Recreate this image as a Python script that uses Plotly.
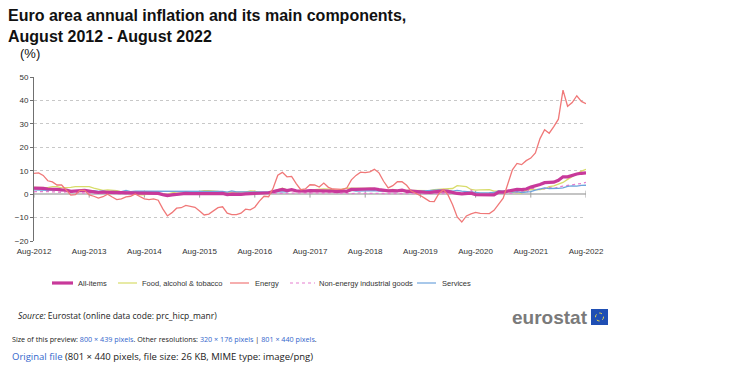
import plotly.graph_objects as go

tick_labels = ["Aug-2012", "Aug-2013", "Aug-2014", "Aug-2015", "Aug-2016", "Aug-2017",
               "Aug-2018", "Aug-2019", "Aug-2020", "Aug-2021", "Aug-2022"]

all_items = [2.6, 2.6, 2.5, 2.2, 2.2,
             2.0, 1.8, 1.7, 1.2, 1.4, 1.6, 1.6, 1.3, 1.1, 0.7, 0.9, 0.8,
             0.8, 0.7, 0.5, 0.7, 0.5, 0.5, 0.4, 0.4, 0.3, 0.4, 0.3, -0.2,
             -0.6, -0.3, -0.1, 0.2, 0.3, 0.2, 0.2, 0.1, -0.1, 0.1, 0.1, 0.2,
             0.3, -0.2, 0.0, -0.2, -0.1, 0.1, 0.2, 0.2, 0.4, 0.5, 0.6, 1.1,
             1.7, 2.0, 1.5, 1.9, 1.4, 1.3, 1.3, 1.5, 1.5, 1.4, 1.5, 1.3,
             1.3, 1.1, 1.4, 1.2, 2.0, 2.0, 2.1, 2.1, 2.1, 2.3, 1.9, 1.5,
             1.4, 1.5, 1.4, 1.7, 1.2, 1.3, 1.0, 1.0, 0.8, 0.7, 1.0, 1.3,
             1.4, 1.2, 0.7, 0.3, 0.1, 0.3, 0.4, -0.2, -0.3, -0.3, -0.3, -0.3,
             0.9, 0.9, 1.3, 1.6, 2.0, 1.9, 2.2, 3.0, 3.4, 4.1, 4.9, 5.0,
             5.1, 5.9, 7.4, 7.4, 8.1, 8.6, 8.9, 9.1]

food = [2.9, 2.9, 2.9, 2.8, 3.2,
        3.2, 2.7, 2.7, 2.9, 3.2, 3.2, 3.5, 3.2, 2.6, 2.0, 1.6, 1.8,
        1.7, 1.5, 1.0, 0.7, 0.1, 0.2, -0.3, -0.3, 0.3, 0.5, 0.5, 0.0,
        0.0, 0.5, 1.0, 1.1, 1.2, 1.0, 0.9, 1.3, 1.5, 1.5, 1.5, 1.2,
        0.8, 0.6, 0.8, 0.8, 0.9, 0.9, 1.4, 1.3, 0.7, 0.5, 0.7, 1.2,
        1.7, 2.5, 1.8, 1.5, 1.5, 1.3, 1.4, 1.4, 1.9, 2.2, 2.2, 2.1,
        1.9, 1.0, 2.1, 2.6, 2.5, 2.6, 2.5, 2.4, 2.6, 2.2, 1.9, 1.7,
        1.7, 2.0, 1.6, 1.4, 1.6, 1.6, 1.5, 1.5, 1.4, 1.5, 1.9, 2.1,
        2.3, 2.2, 2.4, 3.6, 3.3, 3.2, 2.0, 1.7, 1.8, 1.9, 1.9, 1.3,
        1.4, 1.3, 1.1, 0.7, 0.6, 0.5, 1.6, 2.0, 1.9, 1.9, 2.2, 3.2,
        3.5, 4.2, 5.0, 6.3, 7.5, 8.9, 9.8, 10.6]

energy = [8.9, 9.1, 8.0, 5.7, 5.2,
          3.9, 3.9, 1.7, -0.4, -0.2, 1.6, 1.6, -0.3, -0.9, -1.7, -1.1, 0.0,
          -1.2, -2.3, -2.0, -1.2, -0.9, 0.1, -1.0, -2.0, -2.3, -2.0, -2.6, -6.3,
          -9.3, -7.9, -6.0, -5.8, -4.8, -5.1, -5.6, -7.2, -8.9, -8.5, -7.3, -5.8,
          -5.4, -8.1, -8.7, -8.7, -8.1, -6.4, -6.7, -5.6, -3.0, -0.9, -1.1, 2.6,
          8.1, 9.3, 7.4, 7.6, 4.5, 1.9, 2.2, 4.0, 3.9, 3.0, 4.7, 2.9,
          2.2, 2.1, 2.0, 2.6, 6.1, 8.0, 9.4, 9.2, 9.5, 10.6, 9.1, 5.5,
          2.7, 3.6, 5.3, 5.3, 3.8, 1.3, 0.5, -0.6, -1.8, -3.1, -3.2, 0.2,
          1.9, -0.3, -4.5, -9.7, -11.9, -9.3, -8.4, -7.8, -8.2, -8.2, -8.3, -6.9,
          -4.2, -1.7, 4.3, 10.4, 13.1, 12.6, 14.3, 15.4, 17.6, 23.7, 27.5, 26.0,
          28.8, 32.0, 44.4, 37.5, 39.1, 42.0, 39.6, 38.6]

neig = [1.1, 1.2, 1.1, 1.1, 1.0,
        0.8, 0.8, 1.0, 0.8, 0.8, 0.7, 0.4, 0.4, 0.4, 0.3, 0.2, 0.3,
        0.2, 0.4, 0.2, 0.1, 0.0, 0.0, 0.0, 0.3, 0.2, -0.1, -0.1, -0.1,
        -0.1, 0.1, -0.1, 0.1, 0.2, 0.3, 0.4, 0.6, 0.3, 0.6, 0.5, 0.5,
        0.7, 0.6, 0.5, 0.5, 0.5, 0.4, 0.4, 0.3, 0.3, 0.3, 0.3, 0.3,
        0.5, 0.2, 0.3, 0.3, 0.3, 0.4, 0.5, 0.5, 0.5, 0.4, 0.4, 0.5,
        0.6, 0.4, 0.2, 0.3, 0.2, 0.4, 0.5, 0.3, 0.3, 0.4, 0.4, 0.4,
        0.3, 0.2, 0.2, 0.2, 0.3, 0.2, 0.3, 0.3, 0.3, 0.3, 0.4, 0.5,
        0.3, 0.5, 0.5, 0.3, 0.2, 0.2, 1.7, -0.1, -0.1, -0.1, -0.3, 0.5,
        1.5, 1.0, 0.3, 0.4, 0.7, 1.2, 0.7, 2.6, 2.1, 2.0, 2.4, 2.9,
        2.3, 3.1, 3.4, 3.8, 4.2, 4.3, 4.5, 5.0]

services = [1.8, 1.7, 1.7, 1.6, 1.8,
            1.6, 1.5, 1.8, 1.1, 1.5, 1.4, 1.4, 1.4, 1.5, 1.2, 1.4, 1.0,
            1.2, 1.3, 1.1, 1.6, 1.1, 1.3, 1.3, 1.3, 1.1, 1.2, 1.1, 1.2,
            1.0, 1.2, 1.3, 1.0, 1.3, 1.1, 1.2, 1.2, 1.3, 1.2, 1.1, 1.1,
            1.2, 0.9, 1.4, 1.0, 1.0, 1.1, 1.2, 1.1, 1.1, 1.2, 1.1, 1.3,
            1.2, 1.3, 1.0, 1.8, 1.3, 1.6, 1.6, 1.6, 1.5, 1.2, 1.5, 1.2,
            1.2, 1.3, 1.5, 1.0, 1.6, 1.3, 1.4, 1.3, 1.3, 1.5, 1.3, 1.3,
            1.2, 1.4, 1.1, 1.9, 1.0, 1.6, 1.2, 1.3, 1.5, 1.5, 1.9, 1.8,
            1.5, 1.6, 1.3, 1.6, 1.3, 1.2, 0.9, 0.7, 0.5, 0.4, 0.6, 0.7,
            1.4, 1.3, 1.3, 0.9, 1.1, 0.7, 0.9, 1.1, 1.7, 2.1, 2.7, 2.4,
            2.3, 2.5, 2.7, 3.3, 3.5, 3.4, 3.7, 3.8]

series_names = ["All-items", "Food, alcohol & tobacco", "Energy",
                "Non-energy industrial goods", "Services"]
series_values = [all_items, food, energy, neig, services]

months = list(range(len(all_items)))
tick_positions = list(range(0, len(all_items), 12))

FONT = "Liberation Sans, Arial, sans-serif"
WIKI = "Open Sans, DejaVu Sans, sans-serif"

styles = {
    "All-items": ("#c8399a", 3.2, "solid"),
    "Food, alcohol & tobacco": ("#d8dc6a", 1.3, "solid"),
    "Energy": ("#f07878", 1.3, "solid"),
    "Non-energy industrial goods": ("#e57fcf", 1.3, "dot"),
    "Services": ("#6ea3dc", 1.3, "solid"),
}
draw_order = ["Food, alcohol & tobacco", "Non-energy industrial goods", "Services",
              "All-items", "Energy"]

fig = go.Figure()

# small tick marks on the zero line at each August
fig.add_trace(go.Scatter(x=tick_positions, y=[0] * len(tick_positions), mode="markers",
                         showlegend=False, hoverinfo="skip",
                         marker=dict(symbol="line-ns", size=5,
                                     line=dict(color="#a0a0a0", width=1))))

for name in draw_order:
    vals = series_values[series_names.index(name)]
    color, w, dash = styles[name]
    fig.add_trace(go.Scatter(x=months, y=vals, name=name, mode="lines",
                             showlegend=False,
                             line=dict(color=color, width=w, dash=dash)))

# page body has an 8px margin; window pixel coordinates are converted below
OFF = 8
W, H = 750 - OFF, 375 - OFF
L, R, T, B = 34 - OFF, 586 - OFF, 77 - OFF, 241 - OFF
PW, PH = R - L, B - T


def px(x):
    return (x - OFF - L) / PW


def py(y):
    return (B - (y - OFF)) / PH


fig.update_layout(
    width=W, height=H,
    margin=dict(l=L, r=W - R, t=T, b=H - B, autoexpand=False),
    paper_bgcolor="white", plot_bgcolor="white",
    font=dict(family=FONT, size=8, color="#333333"),
    showlegend=False,
    xaxis=dict(range=[0, 120], tickvals=tick_positions, ticktext=tick_labels,
               showgrid=False, zeroline=False, showline=False, ticks="",
               ticklabelstandoff=4,
               tickfont=dict(size=8, color="#333333")),
    yaxis=dict(range=[-20, 50], dtick=10, showgrid=True, gridcolor="#c8c8c8",
               griddash="dot", gridwidth=1, zeroline=True, zerolinecolor="#c4c4c4",
               zerolinewidth=2, showline=True, linecolor="#707070", linewidth=1,
               ticks="outside", ticklen=3, tickcolor="#707070",
               tickfont=dict(size=8, color="#333333")),
)

# manual legend (positions as in the reference)
legend_pos = {
    "All-items": (52, 73, 76),
    "Food, alcohol & tobacco": (118, 137, 140),
    "Energy": (230, 249, 253),
    "Non-energy industrial goods": (290, 315, 317),
    "Services": (417, 436, 440),
}
LY = 283
for name in series_names:
    x0, x1, tx = legend_pos[name]
    color, w, dash = styles[name]
    fig.add_shape(type="line", xref="paper", yref="paper",
                  x0=px(x0), x1=px(x1), y0=py(LY), y1=py(LY),
                  line=dict(color=color, width=w if w > 2 else 1.2, dash=dash))
    fig.add_annotation(xref="paper", yref="paper", x=px(tx), y=py(LY),
                       xanchor="left", yanchor="middle", showarrow=False,
                       text=name, font=dict(family=FONT, size=7.5, color="#333333"))

fig.add_annotation(xref="paper", yref="paper", x=px(6), y=py(5),
                   xanchor="left", yanchor="top", align="left", showarrow=False,
                   text="<b>Euro area annual inflation and its main components,<br>August 2012 - August 2022</b>",
                   font=dict(family=FONT, size=16, color="#111111"))
fig.add_annotation(xref="paper", yref="paper", x=px(18), y=py(44),
                   xanchor="left", yanchor="top", showarrow=False,
                   text="(%)", font=dict(family=FONT, size=13, color="#111111"))

fig.add_annotation(xref="paper", yref="paper", x=px(16), y=py(315),
                   xanchor="left", yanchor="middle", showarrow=False,
                   text="<i>Source:</i> Eurostat (online data code: prc_hicp_manr)",
                   font=dict(family=WIKI, size=8.5, color="#222222"))

fig.add_annotation(xref="paper", yref="paper", x=px(590), y=py(317),
                   xanchor="right", yanchor="middle", showarrow=False,
                   text="<b>eurostat</b>",
                   font=dict(family=FONT, size=19, color="#7a7a7a"))
fig.add_shape(type="rect", xref="paper", yref="paper",
              x0=px(591), x1=px(608), y0=py(325), y1=py(309),
              fillcolor="#1f4fb4", line=dict(width=0))
fig.add_shape(type="circle", xref="paper", yref="paper",
              x0=px(595.5), x1=px(603.5), y0=py(321), y1=py(313),
              line=dict(color="#e8d84a", width=1, dash="dot"))

link = "#3366cc"
fig.add_annotation(xref="paper", yref="paper", x=px(10), y=py(338.5),
                   xanchor="left", yanchor="middle", showarrow=False,
                   text=("Size of this preview: <span style='color:%s'>800 × 439 pixels</span>. Other resolutions: "
                         "<span style='color:%s'>320 × 176 pixels</span> | <span style='color:%s'>801 × 440 pixels</span>.") % (link, link, link),
                   font=dict(family=WIKI, size=7.2, color="#222222"))
fig.add_annotation(xref="paper", yref="paper", x=px(10), y=py(356.5),
                   xanchor="left", yanchor="middle", showarrow=False,
                   text=("<span style='color:%s'>Original file</span> (801 × 440 pixels, file size: 26 KB, MIME type: image/png)") % link,
                   font=dict(family=WIKI, size=9.5, color="#222222"))

fig.write_html("out.html")
